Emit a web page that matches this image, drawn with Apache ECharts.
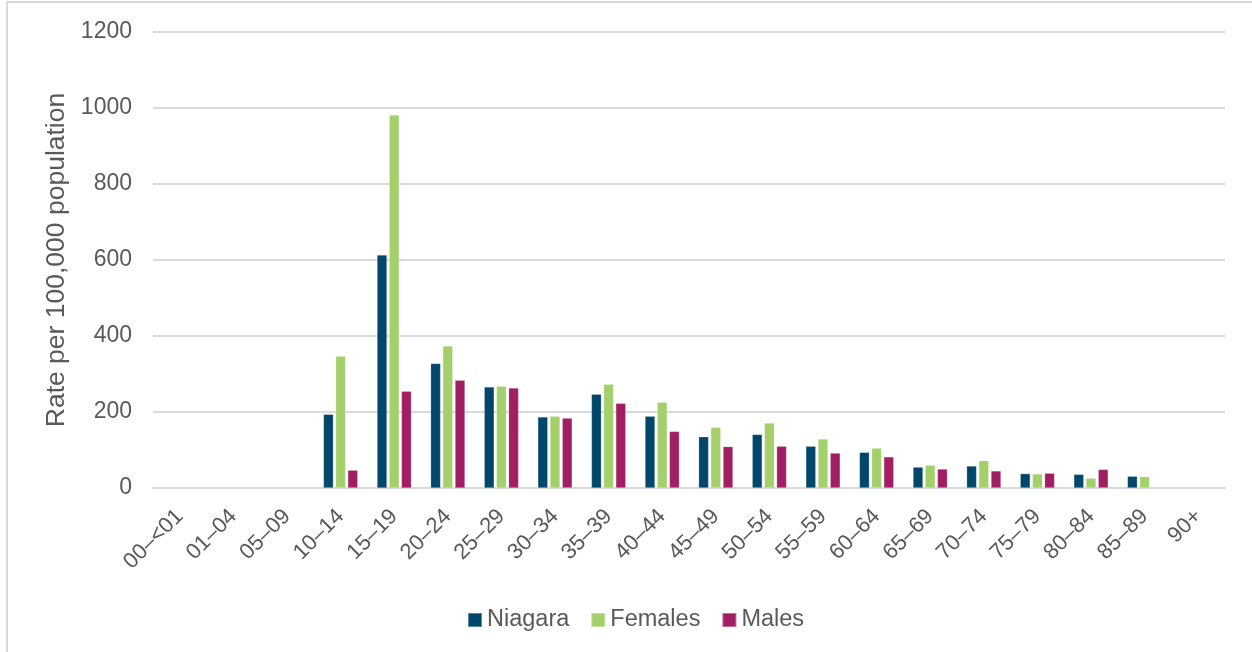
<!DOCTYPE html>
<html>
<head>
<meta charset="utf-8">
<script src="https://cdn.jsdelivr.net/npm/echarts@6/dist/echarts.min.js"></script>
<style>
html,body{margin:0;padding:0;background:#fff;}
#chart{width:1252px;height:652px;}
</style>
</head>
<body>
<div id="chart"></div>
<script>
const categories = ['00\u2013<01','01\u201304','05\u201309','10\u201314','15\u201319','20\u201324','25\u201329','30\u201334','35\u201339','40\u201344','45\u201349','50\u201354','55\u201359','60\u201364','65\u201369','70\u201374','75\u201379','80\u201384','85\u201389','90+'];
const niagara = [null,null,null,194,613,328,266,187,247,189,135,141,110,94,55,58,38,36,31,null];
const females = [null,null,null,347,982,374,268,189,273,226,160,171,129,105,60,72,37,26,30,null];
const males   = [null,null,null,47,255,284,263,184,223,149,109,110,92,82,50,45,39,49,null,null];
const yTicks = [0,200,400,600,800,1000,1200];

const chart = echarts.init(document.getElementById('chart'), null, {renderer:'canvas'});
const font = 'Liberation Sans, Arial, sans-serif';
const barStyle = (c) => ({ type:'bar', barWidth:10, barGap:'22%', itemStyle:{color:c, borderColor:'rgba(255,255,255,0.35)', borderWidth:0.6} });
chart.setOption({
  animation:false,
  backgroundColor:'#ffffff',
  graphic:[
    {type:'rect', shape:{x:6, y:1, width:1246, height:2}, style:{fill:'#d9d9d9'}, silent:true},
    {type:'rect', shape:{x:6, y:1, width:2, height:651}, style:{fill:'#d9d9d9'}, silent:true}
  ],
  grid:{left:153, right:27, top:32, bottom:164, containLabel:false},
  legend:{
    bottom:15, left:462, itemWidth:14, itemHeight:14, itemGap:21,
    icon:'rect',
    textStyle:{fontFamily:font, fontSize:23.5, color:'#595959', padding:[0,0,0,0]},
    data:['Niagara','Females','Males']
  },
  xAxis:{
    type:'category', data:categories,
    axisLine:{lineStyle:{color:'#d9d9d9', width:2}},
    axisTick:{show:false},
    axisLabel:{rotate:45, interval:0, margin:25, fontFamily:font, fontSize:22, color:'#595959'}
  },
  yAxis:{
    type:'value', min:0, max:1200, interval:200,
    name:'Rate per 100,000 population', nameLocation:'middle', nameGap:82, nameRotate:90,
    nameTextStyle:{fontFamily:font, fontSize:26.5, color:'#595959'},
    axisLine:{show:false}, axisTick:{show:false},
    axisLabel:{margin:21, fontFamily:font, fontSize:23, color:'#595959',
      formatter:(v)=> yTicks.includes(v) ? String(v) : ''},
    splitLine:{lineStyle:{color:'#d9d9d9', width:2}}
  },
  series:[
    Object.assign({name:'Niagara', data:niagara}, barStyle('#01476b')),
    Object.assign({name:'Females', data:females}, barStyle('#a3d06a')),
    Object.assign({name:'Males', data:males}, barStyle('#a11e63'))
  ]
});
</script>
</body>
</html>
